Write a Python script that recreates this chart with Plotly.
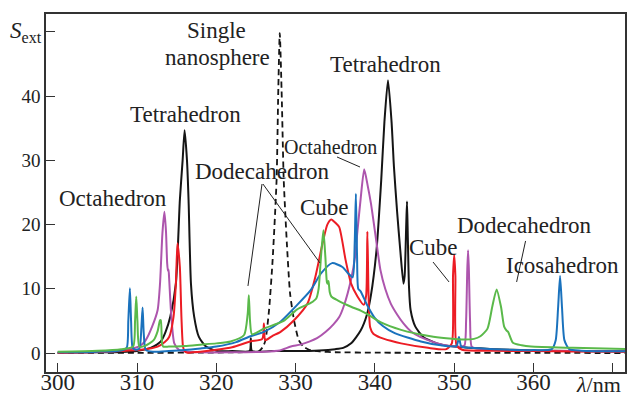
import plotly.graph_objects as go

# ---------------- data ----------------
sphere_x = [300, 310, 318, 322, 324, 325.4, 325.9, 326.2, 326.65, 327.1, 327.6, 327.8, 328.0,
            328.25, 328.5, 328.9, 329.3, 329.8, 330.4, 331.0, 331.7, 333, 335, 340, 350, 372]
sphere_y = [0.0, 0.02, 0.06, 0.1, 0.15, 0.3, 1.0, 2.0, 6.7, 14.5, 27, 40, 49.8,
            40, 27, 17, 9.3, 5.1, 2.0, 1.0, 0.5, 0.25, 0.12, 0.05, 0.02, 0.0]

tetra_x = [300, 305, 308, 310, 311.7, 312.5, 313.0, 313.6, 314.2, 314.9, 315.4, 315.75, 316.0,
           316.3, 316.5, 316.8, 317.2, 317.8, 318.7, 320.1, 322, 324.2, 324.35, 324.5, 327, 330,
           333, 335, 336, 337, 338.2, 339.0, 339.5, 340.2, 340.8, 341.2, 341.65, 342.1, 342.4,
           342.8, 343.2, 343.6, 343.75, 343.95, 344.05, 344.15, 344.3, 344.5, 345.1, 346.1,
           347.8, 350, 355, 360, 365, 372]
tetra_y = [0.05, 0.1, 0.15, 0.3, 0.8, 1.3, 1.8, 3.3, 5.7, 10.8, 23.8, 30, 34.7,
           30, 23.8, 10.8, 5.7, 2.5, 1.0, 0.3, 0.3, 0.3, 2.3, 0.3, 0.3, 0.3,
           0.4, 0.6, 0.8, 1.5, 3.5, 6.0, 9.0, 16, 27, 36, 42.5, 36, 29,
           22, 16, 10.8, 12, 20, 23.6, 18, 10.3, 6.7, 4.1, 2.5,
           1.5, 1.0, 0.6, 0.4, 0.3, 0.25]

octa_x = [300, 305, 308, 309.5, 310.5, 311.1, 311.9, 312.6, 312.9, 313.2, 313.45, 313.65, 313.8,
          313.9, 313.97, 314.05, 314.3, 314.7, 315.3, 316.4, 318, 322, 326, 328, 329.4, 330.6,
          331.8, 332.7, 333.8, 334.8, 335.5, 336.1, 337.0, 337.5, 337.8, 338.2, 338.65, 339.1,
          339.5, 340.1, 340.7, 341.3, 342.0, 342.8, 343.6, 344.6, 345.7, 347.9, 349.5, 350.8,
          351.3, 351.5, 351.65, 351.75, 351.85, 352.0, 352.2, 352.8, 355, 360, 365, 372]
octa_y = [0.05, 0.15, 0.35, 0.7, 1.2, 2.0, 4.1, 6.7, 10.8, 18.6, 22, 19, 14,
          12.8, 13, 11.6, 6.2, 1.5, 0.5, 0.2, 0.1, 0.1, 0.2, 0.4, 1.0, 1.3,
          1.8, 2.3, 3.3, 4.5, 5.6, 7.4, 11.5, 15, 19, 24, 28.6, 26,
          23.3, 18.1, 12.9, 10, 7.7, 6, 4.6, 3.3, 2.5, 1.5, 1.1, 1.0,
          1.2, 5, 13, 16, 13, 5, 1.0, 0.7, 0.5, 0.35, 0.3, 0.25]

cube_x = [300, 305, 308, 310.5, 312.6, 313.5, 314.05, 314.6, 314.9, 315.1, 315.4, 315.6, 315.8,
          316.0, 316.35, 317, 318, 320, 322, 324.3, 325.8, 326.0, 326.15, 326.4, 327, 328.1,
          329.8, 331.5, 332.5, 333.4, 334.0, 334.5, 335.0, 335.5, 336.3, 337.0, 337.8, 338.6,
          338.9, 339.05, 339.2, 339.4, 339.8, 340.7, 342, 343.3, 346.7, 349.0, 349.7, 349.85,
          350.0, 350.15, 350.3, 351, 355, 360, 365, 372]
cube_y = [0.05, 0.15, 0.3, 0.5, 1.0, 1.7, 2.5, 5.6, 10.8, 17.1, 13.4, 5.6, 1.0,
          0.3, 0.05, 0.1, 0.2, 0.5, 0.9, 1.8, 2.2, 4.6, 2.0, 2.1, 2.6, 3.3,
          5.1, 7.7, 11.9, 17.1, 20, 20.8, 20.3, 19.6, 14.5, 10.8, 8.8, 7.5,
          9, 18.9, 9, 4, 3.0, 2.4, 1.9, 1.5, 0.8, 0.6, 1.5, 12,
          15.3, 12, 1.2, 0.5, 0.35, 0.3, 0.25, 0.2]

icosa_x = [300, 305, 308, 308.7, 308.9, 309.1, 309.25, 309.45, 309.8, 310.3, 310.55, 310.7, 310.85,
           311.1, 312, 314, 316, 318, 320, 322.5, 324.3, 326.0, 328, 330.2, 331.9, 333.2, 334.6,
           335.9, 336.7, 337.2, 337.45, 337.6, 337.75, 337.9, 338.2, 339.0, 339.9, 341, 342.5,
           345.8, 348.3, 350.3, 350.6, 350.9, 352, 355, 360, 362.3, 362.8, 363.1, 363.35, 363.6,
           363.9, 364.5, 366, 372]
icosa_y = [0.1, 0.2, 0.4, 0.8, 5, 10.1, 5, 0.8, 0.5, 0.7, 4, 7.1, 3,
           0.5, 0.2, 0.3, 0.45, 0.7, 1.0, 1.7, 2.6, 3.3, 4.8, 7.5, 9.8, 12.4, 14.0,
           13.4, 12.3, 11.8, 17, 24.8, 15, 10, 9.6, 7.5, 5.6, 4.2, 3.1,
           1.8, 1.2, 1.1, 2.5, 1.0, 0.8, 0.6, 0.45, 0.6, 2.0, 7, 12.0, 7,
           2, 0.6, 0.35, 0.25]

dodeca_x = [300, 305, 308, 309.5, 309.75, 309.9, 310.05, 310.3, 311, 312.1, 312.6, 312.9, 313.0,
            313.15, 313.3, 314, 316, 318, 320, 321.8, 323.5, 323.95, 324.1, 324.25, 324.5, 326,
            328.5, 330.2, 331.9, 332.6, 332.9, 333.2, 333.5, 333.75, 333.95, 334.05, 334.15,
            334.3, 334.5, 335.3, 337.0, 338.2, 339.1, 340.7, 343.3, 347, 349, 351.2, 352.5,
            353.3, 354.2, 354.8, 355.35, 355.9, 356.3, 356.6, 356.8, 357.4, 358.5, 359.7, 365, 372]
dodeca_y = [0.2, 0.35, 0.6, 1.0, 5, 8.8, 5, 1.0, 1.1, 2.0, 3.4, 5.1, 5.1,
            1.5, 1.0, 1.0, 1.1, 1.3, 1.5, 1.8, 2.8, 6, 9.0, 5, 2.9, 3.8,
            5.0, 6.8, 7.8, 8.5, 10, 15, 19.1, 15, 11, 10.8, 11.2,
            9.5, 8.8, 8.2, 7.2, 6.6, 6.0, 4.8, 3.6, 2.6, 2.3, 2.1, 2.2,
            2.6, 3.8, 7.2, 9.9, 7.2, 4.1, 3.5, 3.3, 1.6, 1.2, 1.0, 0.8, 0.6]

x_ticks = [300, 310, 320, 330, 340, 350, 360, 370]
x_ticktext = ["300", "310", "320", "330", "340", "350", "360", " "]
y_ticks = [0, 10, 20, 30, 40, 50]
y_ticktext = ["0", "10", "20", "30", "40", " "]

# labels: (text, lambda, S, size)
labels = [
    ("Octahedron", 306.97, 24.0, 23),
    ("Tetrahedron", 316.05, 37.2, 23),
    ("Single", 320.02, 50.2, 23),
    ("nanosphere", 320.09, 45.95, 23),
    ("Dodecahedron", 325.76, 28.2, 23),
    ("Octahedron", 334.34, 32.1, 20),
    ("Cube", 333.64, 22.7, 23),
    ("Tetrahedron", 341.34, 45.0, 23),
    ("Cube", 347.45, 16.5, 23),
    ("Dodecahedron", 358.92, 19.8, 23),
    ("Icosahedron", 363.72, 13.7, 23),
]
# pointer lines: (x0, y0, x1, y1) in data units
pointers = [
    (335.22, 30.53, 338.12, 28.97),
    (325.76, 26.32, 323.99, 10.44),
    (325.88, 26.32, 333.07, 14.02),
    (347.33, 14.17, 349.35, 11.06),
    (359.0, 17.45, 357.87, 11.06),
]

# ---------------- figure ----------------
FONT = "Liberation Serif, Times New Roman, serif"
BLACK = "#151515"
PURPLE = "#ad55ad"
RED = "#ec1c24"
BLUE = "#1a72bd"
GREEN = "#5ab94a"

fig = go.Figure()
common = dict(mode="lines", hoverinfo="skip", showlegend=False)
fig.add_trace(go.Scatter(x=sphere_x, y=sphere_y, line=dict(color=BLACK, width=1.8, dash="6px,4px",
                                                            shape="spline", smoothing=0.6), **common))
fig.add_trace(go.Scatter(x=tetra_x, y=tetra_y, line=dict(color=BLACK, width=2, shape="spline", smoothing=0.6), **common))
fig.add_trace(go.Scatter(x=octa_x, y=octa_y, line=dict(color=PURPLE, width=2, shape="spline", smoothing=0.6), **common))
fig.add_trace(go.Scatter(x=cube_x, y=cube_y, line=dict(color=RED, width=2, shape="spline", smoothing=0.6), **common))
fig.add_trace(go.Scatter(x=icosa_x, y=icosa_y, line=dict(color=BLUE, width=2, shape="spline", smoothing=0.6), **common))
fig.add_trace(go.Scatter(x=dodeca_x, y=dodeca_y, line=dict(color=GREEN, width=2, shape="spline", smoothing=0.6), **common))

for text, lx, ly, sz in labels:
    fig.add_annotation(x=lx, y=ly, text=text, showarrow=False, xanchor="center", yanchor="middle",
                       font=dict(family=FONT, size=sz, color="#222"))
for x0, y0, x1, y1 in pointers:
    fig.add_shape(type="line", x0=x0, y0=y0, x1=x1, y1=y1, xref="x", yref="y",
                  line=dict(color="#222", width=1))

fig.add_annotation(x=-0.035, xref="paper", y=50, yref="y", text="<i>S</i><sub>ext</sub>",
                   showarrow=False, xanchor="center", yanchor="middle",
                   font=dict(family=FONT, size=23, color="#222"))
fig.add_annotation(x=368.2, xref="x", y=-0.035, yref="paper", text="<i>λ</i>/nm",
                   showarrow=False, xanchor="center", yanchor="middle",
                   font=dict(family=FONT, size=22, color="#222"))

fig.update_layout(
    width=627, height=394,
    margin=dict(l=46, r=2, t=14, b=22, autoexpand=False),
    paper_bgcolor="white", plot_bgcolor="white",
    font=dict(family=FONT, color="#222"),
)
fig.update_xaxes(range=[298.52, 371.54], tickvals=x_ticks, ticktext=x_ticktext, automargin=False,
                 ticks="inside", ticklen=9, tickwidth=1.3, tickcolor="#333", ticklabelstandoff=-11,
                 showline=True, linecolor="#333", linewidth=1.5, mirror=True,
                 showgrid=False, zeroline=False, tickfont=dict(family=FONT, size=23, color="#222"))
fig.update_yaxes(range=[-2.96, 52.8], tickvals=y_ticks, ticktext=y_ticktext, automargin=False,
                 ticks="inside", ticklen=9, tickwidth=1.3, tickcolor="#333",
                 showline=True, linecolor="#333", linewidth=1.5, mirror=True,
                 showgrid=False, zeroline=False, tickfont=dict(family=FONT, size=19, color="#222"))

fig.write_html("out.html")
